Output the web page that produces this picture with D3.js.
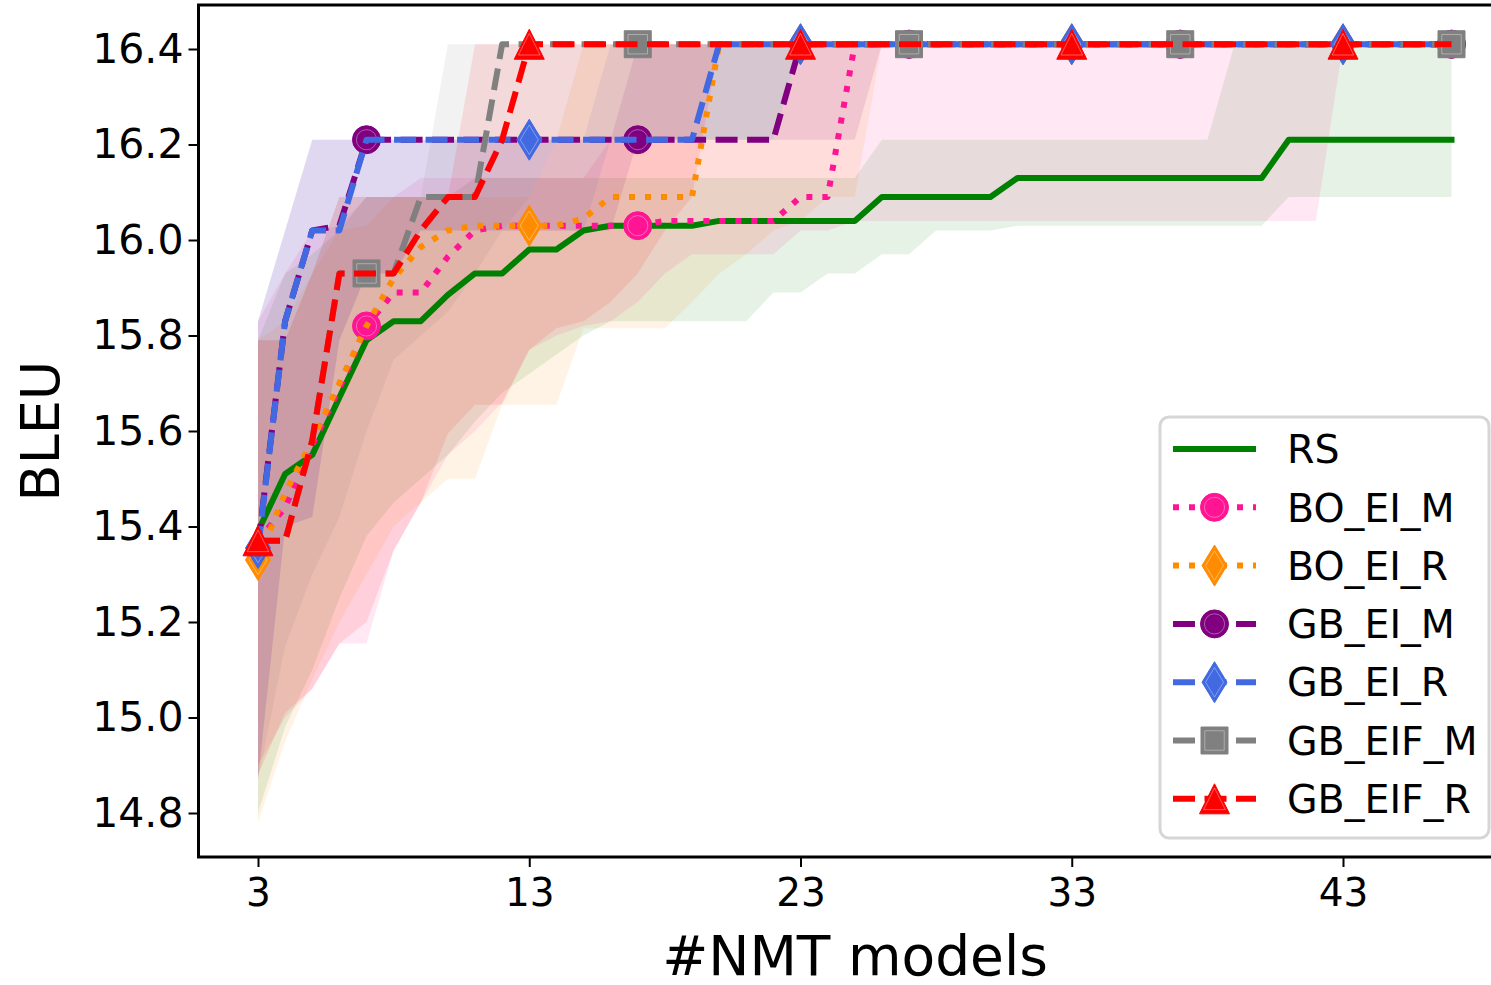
<!DOCTYPE html>
<html>
<head>
<meta charset="utf-8">
<script src="https://cdn.jsdelivr.net/npm/d3@7"></script>
<style>
  html, body { margin: 0; padding: 0; background: #fff; }
  svg { display: block; font-family: "DejaVu Sans", sans-serif; }
</style>
</head>
<body>
<div id="chart"></div>
<script>
// number of NMT models evaluated (x axis)
const modelCounts = d3.range(3, 48);

// median BLEU curves and min / max bands, x = 3 .. 47
const rsMean = [15.39, 15.51, 15.55, 15.67, 15.79, 15.83, 15.83, 15.885, 15.93, 15.93, 15.98, 15.98, 16.02, 16.03, 16.03, 16.03, 16.03, 16.04, 16.04, 16.04, 16.04, 16.04, 16.04, 16.09, 16.09, 16.09, 16.09, 16.09, 16.13, 16.13, 16.13, 16.13, 16.13, 16.13, 16.13, 16.13, 16.13, 16.13, 16.21, 16.21, 16.21, 16.21, 16.21, 16.21, 16.21];
const rsLow = [14.80, 14.98, 15.10, 15.25, 15.38, 15.45, 15.50, 15.55, 15.62, 15.68, 15.72, 15.76, 15.80, 15.83, 15.83, 15.83, 15.83, 15.83, 15.83, 15.89, 15.89, 15.93, 15.93, 15.97, 15.97, 16.02, 16.02, 16.02, 16.03, 16.03, 16.03, 16.03, 16.03, 16.03, 16.03, 16.03, 16.03, 16.03, 16.09, 16.09, 16.09, 16.09, 16.09, 16.09, 16.09];
const rsHigh = [15.79, 15.93, 15.97, 16.02, 16.09, 16.09, 16.09, 16.09, 16.13, 16.13, 16.13, 16.13, 16.13, 16.13, 16.13, 16.13, 16.13, 16.13, 16.13, 16.13, 16.13, 16.13, 16.13, 16.21, 16.21, 16.21, 16.21, 16.21, 16.21, 16.21, 16.21, 16.21, 16.21, 16.21, 16.21, 16.21, 16.41, 16.41, 16.41, 16.41, 16.41, 16.41, 16.41, 16.41, 16.41];

const boEiMMean = [15.37, 15.44, 15.57, 15.69, 15.82, 15.89, 15.89, 15.965, 16.02, 16.03, 16.03, 16.03, 16.03, 16.03, 16.03, 16.04, 16.04, 16.04, 16.04, 16.04, 16.09, 16.09, 16.41, 16.41, 16.41, 16.41, 16.41, 16.41, 16.41, 16.41, 16.41, 16.41, 16.41, 16.41, 16.41, 16.41, 16.41, 16.41, 16.41, 16.41, 16.41, 16.41, 16.41, 16.41, 16.41];
const boEiMLow = [14.90, 15.00, 15.06, 15.155, 15.155, 15.35, 15.45, 15.55, 15.60, 15.66, 15.77, 15.80, 15.82, 15.83, 15.87, 15.93, 15.97, 15.97, 15.97, 15.97, 16.02, 16.02, 16.04, 16.04, 16.04, 16.04, 16.04, 16.04, 16.04, 16.04, 16.04, 16.04, 16.04, 16.04, 16.04, 16.04, 16.04, 16.04, 16.04, 16.04, 16.41, 16.41, 16.41, 16.41, 16.41];
const boEiMHigh = [15.83, 15.93, 16.02, 16.03, 16.09, 16.09, 16.13, 16.13, 16.13, 16.13, 16.13, 16.13, 16.13, 16.21, 16.21, 16.21, 16.21, 16.21, 16.21, 16.21, 16.41, 16.41, 16.41, 16.41, 16.41, 16.41, 16.41, 16.41, 16.41, 16.41, 16.41, 16.41, 16.41, 16.41, 16.41, 16.41, 16.41, 16.41, 16.41, 16.41, 16.41, 16.41, 16.41, 16.41, 16.41];

const boEiRMean = [15.33, 15.47, 15.58, 15.70, 15.82, 15.92, 15.985, 16.02, 16.03, 16.03, 16.03, 16.03, 16.045, 16.09, 16.09, 16.09, 16.09, 16.41, 16.41, 16.41, 16.41, 16.41, 16.41, 16.41, 16.41, 16.41, 16.41, 16.41, 16.41, 16.41, 16.41, 16.41, 16.41, 16.41, 16.41, 16.41, 16.41, 16.41, 16.41, 16.41, 16.41, 16.41, 16.41, 16.41, 16.41];
const boEiRLow = [14.78, 14.95, 15.08, 15.20, 15.30, 15.40, 15.45, 15.50, 15.50, 15.655, 15.655, 15.655, 15.815, 15.815, 15.815, 15.815, 15.87, 15.93, 15.97, 16.02, 16.04, 16.09, 16.09, 16.41, 16.41, 16.41, 16.41, 16.41, 16.41, 16.41, 16.41, 16.41, 16.41, 16.41, 16.41, 16.41, 16.41, 16.41, 16.41, 16.41, 16.41, 16.41, 16.41, 16.41, 16.41];
const boEiRHigh = [15.79, 15.83, 15.93, 16.02, 16.03, 16.09, 16.09, 16.09, 16.09, 16.09, 16.09, 16.21, 16.41, 16.41, 16.41, 16.41, 16.41, 16.41, 16.41, 16.41, 16.41, 16.41, 16.41, 16.41, 16.41, 16.41, 16.41, 16.41, 16.41, 16.41, 16.41, 16.41, 16.41, 16.41, 16.41, 16.41, 16.41, 16.41, 16.41, 16.41, 16.41, 16.41, 16.41, 16.41, 16.41];

const gbEiMMean = [15.36, 15.83, 16.02, 16.03, 16.21, 16.21, 16.21, 16.21, 16.21, 16.21, 16.21, 16.21, 16.21, 16.21, 16.21, 16.21, 16.21, 16.21, 16.21, 16.21, 16.41, 16.41, 16.41, 16.41, 16.41, 16.41, 16.41, 16.41, 16.41, 16.41, 16.41, 16.41, 16.41, 16.41, 16.41, 16.41, 16.41, 16.41, 16.41, 16.41, 16.41, 16.41, 16.41, 16.41, 16.41];
const gbEiMLow = [14.87, 15.40, 15.42, 15.79, 15.93, 15.93, 16.02, 16.02, 16.02, 16.02, 16.02, 16.02, 16.02, 16.02, 16.21, 16.21, 16.21, 16.21, 16.21, 16.21, 16.21, 16.21, 16.21, 16.41, 16.41, 16.41, 16.41, 16.41, 16.41, 16.41, 16.41, 16.41, 16.41, 16.41, 16.41, 16.41, 16.41, 16.41, 16.41, 16.41, 16.41, 16.41, 16.41, 16.41, 16.41];
const gbEiMHigh = [15.83, 16.02, 16.21, 16.21, 16.21, 16.21, 16.21, 16.21, 16.21, 16.21, 16.21, 16.21, 16.21, 16.21, 16.41, 16.41, 16.41, 16.41, 16.41, 16.41, 16.41, 16.41, 16.41, 16.41, 16.41, 16.41, 16.41, 16.41, 16.41, 16.41, 16.41, 16.41, 16.41, 16.41, 16.41, 16.41, 16.41, 16.41, 16.41, 16.41, 16.41, 16.41, 16.41, 16.41, 16.41];

const gbEiRMean = [15.355, 15.83, 16.02, 16.02, 16.21, 16.21, 16.21, 16.21, 16.21, 16.21, 16.21, 16.21, 16.21, 16.21, 16.21, 16.21, 16.21, 16.41, 16.41, 16.41, 16.41, 16.41, 16.41, 16.41, 16.41, 16.41, 16.41, 16.41, 16.41, 16.41, 16.41, 16.41, 16.41, 16.41, 16.41, 16.41, 16.41, 16.41, 16.41, 16.41, 16.41, 16.41, 16.41, 16.41, 16.41];
const gbEiRLow = [14.87, 15.40, 15.42, 15.79, 15.93, 15.93, 16.02, 16.02, 16.02, 16.02, 16.02, 16.02, 16.02, 16.21, 16.21, 16.21, 16.21, 16.21, 16.21, 16.21, 16.41, 16.41, 16.41, 16.41, 16.41, 16.41, 16.41, 16.41, 16.41, 16.41, 16.41, 16.41, 16.41, 16.41, 16.41, 16.41, 16.41, 16.41, 16.41, 16.41, 16.41, 16.41, 16.41, 16.41, 16.41];
const gbEiRHigh = [15.83, 16.02, 16.21, 16.21, 16.21, 16.21, 16.21, 16.21, 16.21, 16.21, 16.21, 16.21, 16.21, 16.41, 16.41, 16.41, 16.41, 16.41, 16.41, 16.41, 16.41, 16.41, 16.41, 16.41, 16.41, 16.41, 16.41, 16.41, 16.41, 16.41, 16.41, 16.41, 16.41, 16.41, 16.41, 16.41, 16.41, 16.41, 16.41, 16.41, 16.41, 16.41, 16.41, 16.41, 16.41];

const gbEifMMean = [15.37, 15.37, 15.58, 15.93, 15.93, 15.93, 16.09, 16.09, 16.09, 16.41, 16.41, 16.41, 16.41, 16.41, 16.41, 16.41, 16.41, 16.41, 16.41, 16.41, 16.41, 16.41, 16.41, 16.41, 16.41, 16.41, 16.41, 16.41, 16.41, 16.41, 16.41, 16.41, 16.41, 16.41, 16.41, 16.41, 16.41, 16.41, 16.41, 16.41, 16.41, 16.41, 16.41, 16.41, 16.41];
const gbEifMLow = [14.87, 15.15, 15.30, 15.42, 15.60, 15.75, 15.80, 15.85, 15.93, 16.02, 16.09, 16.21, 16.21, 16.21, 16.21, 16.21, 16.21, 16.21, 16.21, 16.21, 16.41, 16.41, 16.41, 16.41, 16.41, 16.41, 16.41, 16.41, 16.41, 16.41, 16.41, 16.41, 16.41, 16.41, 16.41, 16.41, 16.41, 16.41, 16.41, 16.41, 16.41, 16.41, 16.41, 16.41, 16.41];
const gbEifMHigh = [15.79, 15.79, 15.93, 16.09, 16.09, 16.09, 16.09, 16.41, 16.41, 16.41, 16.41, 16.41, 16.41, 16.41, 16.41, 16.41, 16.41, 16.41, 16.41, 16.41, 16.41, 16.41, 16.41, 16.41, 16.41, 16.41, 16.41, 16.41, 16.41, 16.41, 16.41, 16.41, 16.41, 16.41, 16.41, 16.41, 16.41, 16.41, 16.41, 16.41, 16.41, 16.41, 16.41, 16.41, 16.41];

const gbEifRMean = [15.37, 15.37, 15.58, 15.93, 15.93, 15.93, 16.02, 16.09, 16.09, 16.21, 16.41, 16.41, 16.41, 16.41, 16.41, 16.41, 16.41, 16.41, 16.41, 16.41, 16.41, 16.41, 16.41, 16.41, 16.41, 16.41, 16.41, 16.41, 16.41, 16.41, 16.41, 16.41, 16.41, 16.41, 16.41, 16.41, 16.41, 16.41, 16.41, 16.41, 16.41, 16.41, 16.41, 16.41, 16.41];
const gbEifRLow = [14.88, 15.01, 15.06, 15.155, 15.20, 15.35, 15.45, 15.595, 15.655, 15.655, 15.77, 15.815, 15.83, 15.87, 15.93, 16.02, 16.09, 16.41, 16.41, 16.41, 16.41, 16.41, 16.41, 16.41, 16.41, 16.41, 16.41, 16.41, 16.41, 16.41, 16.41, 16.41, 16.41, 16.41, 16.41, 16.41, 16.41, 16.41, 16.41, 16.41, 16.41, 16.41, 16.41, 16.41, 16.41];
const gbEifRHigh = [15.79, 15.79, 15.93, 16.09, 16.09, 16.09, 16.09, 16.09, 16.41, 16.41, 16.41, 16.41, 16.41, 16.41, 16.41, 16.41, 16.41, 16.41, 16.41, 16.41, 16.41, 16.41, 16.41, 16.41, 16.41, 16.41, 16.41, 16.41, 16.41, 16.41, 16.41, 16.41, 16.41, 16.41, 16.41, 16.41, 16.41, 16.41, 16.41, 16.41, 16.41, 16.41, 16.41, 16.41, 16.41];

const xTicks = [3, 13, 23, 33, 43];
const yTicks = [14.8, 15.0, 15.2, 15.4, 15.6, 15.8, 16.0, 16.2, 16.4];

const dashed = "22,9.5";
const dotted = "6,10";

const series = [
  { name: "RS", color: "green", dash: null, marker: null, first: 0, mean: rsMean, low: rsLow, high: rsHigh },
  { name: "BO_EI_M", color: "deeppink", dash: dotted, marker: "circle", first: 4, mean: boEiMMean, low: boEiMLow, high: boEiMHigh },
  { name: "BO_EI_R", color: "darkorange", dash: dotted, marker: "diamond", first: 0, mean: boEiRMean, low: boEiRLow, high: boEiRHigh },
  { name: "GB_EI_M", color: "purple", dash: dashed, marker: "circle", first: 4, mean: gbEiMMean, low: gbEiMLow, high: gbEiMHigh },
  { name: "GB_EI_R", color: "royalblue", dash: dashed, marker: "diamond", first: 0, mean: gbEiRMean, low: gbEiRLow, high: gbEiRHigh },
  { name: "GB_EIF_M", color: "gray", dash: dashed, marker: "square", first: 4, mean: gbEifMMean, low: gbEifMLow, high: gbEifMHigh },
  { name: "GB_EIF_R", color: "red", dash: dashed, marker: "triangle", first: 0, mean: gbEifRMean, low: gbEifRLow, high: gbEifRHigh }
];

const width = 1491, height = 985;
const plot = { left: 198.5, top: 5, right: 1512, bottom: 857 };

const svg = d3.select("#chart").append("svg")
    .attr("width", width)
    .attr("height", height);

const x = d3.scaleLinear().domain([3, 43]).range([258, 1343]);
const y = d3.scaleLinear().domain([14.8, 16.4]).range([813, 49]);

svg.append("clipPath").attr("id", "clip")
  .append("rect")
    .attr("x", plot.left).attr("y", plot.top)
    .attr("width", plot.right - plot.left).attr("height", plot.bottom - plot.top);

// marker shapes
function markerPath(type, s) {
  s = s || 1;
  if (type === "circle") {
    const r = 14 * s;
    return `M${r},0A${r},${r} 0 1,1 ${-r},0A${r},${r} 0 1,1 ${r},0Z`;
  }
  if (type === "diamond") {
    const w = 12.5 * s, h = 20.5 * s;
    return `M0,${-h}L${w},0L0,${h}L${-w},0Z`;
  }
  if (type === "square") {
    const a = 13.5 * s;
    return `M${-a},${-a}H${a}V${a}H${-a}Z`;
  }
  if (type === "triangle") {
    const a = 15 * s;
    return `M0,${-a}L${a},${a}L${-a},${a}Z`;
  }
  return "";
}

function drawMarker(g, type, color, cx, cy) {
  const m = g.append("g").attr("transform", `translate(${cx},${cy})`);
  m.append("path").attr("d", markerPath(type))
      .attr("fill", color).attr("stroke", color).attr("stroke-width", 1);
  m.append("path").attr("d", markerPath(type, 0.72))
      .attr("fill", "none").attr("stroke", "#fff")
      .attr("stroke-opacity", 0.35).attr("stroke-width", 1);
}

const body = svg.append("g").attr("clip-path", "url(#clip)");

// bands
const area = d3.area()
    .x(d => x(d.n))
    .y0(d => y(d.lo))
    .y1(d => y(d.hi));

series.forEach(s => {
  const rows = modelCounts.map((n, i) => ({ n, lo: s.low[i], hi: s.high[i] }));
  body.append("path")
      .attr("d", area(rows))
      .attr("fill", s.color)
      .attr("fill-opacity", 0.1);
});

// lines and markers
const line = d3.line()
    .x(d => x(d.n))
    .y(d => y(d.v));

series.forEach(s => {
  const rows = modelCounts.map((n, i) => ({ n, v: s.mean[i] }));
  const g = body.append("g");
  g.append("path")
      .attr("d", line(rows))
      .attr("fill", "none")
      .attr("stroke", s.color)
      .attr("stroke-width", 6)
      .attr("stroke-linejoin", "round")
      .attr("stroke-linecap", s.dash ? "butt" : "square")
      .attr("stroke-dasharray", s.dash);
  if (s.marker) {
    rows.filter((d, i) => i >= s.first && (i - s.first) % 10 === 0)
      .forEach(d => drawMarker(g, s.marker, s.color, x(d.n), y(d.v)));
  }
});

// axes
const yAxis = d3.axisLeft(y)
    .tickValues(yTicks)
    .tickFormat(d3.format(".1f"))
    .tickSize(10)
    .tickPadding(5);

svg.append("g")
    .attr("transform", `translate(${plot.left},0)`)
    .call(yAxis)
    .call(g => g.select(".domain").remove())
    .call(g => g.selectAll(".tick line").attr("stroke", "#000").attr("stroke-width", 2))
    .call(g => g.selectAll(".tick text")
        .attr("font-family", "DejaVu Sans")
        .attr("font-size", 41)
        .attr("fill", "#000"));

const xAxis = d3.axisBottom(x)
    .tickValues(xTicks)
    .tickFormat(d3.format("d"))
    .tickSize(10)
    .tickPadding(11);

svg.append("g")
    .attr("transform", `translate(0,${plot.bottom})`)
    .call(xAxis)
    .call(g => g.select(".domain").remove())
    .call(g => g.selectAll(".tick line").attr("stroke", "#000").attr("stroke-width", 2))
    .call(g => g.selectAll(".tick text")
        .attr("font-family", "DejaVu Sans")
        .attr("font-size", 39)
        .attr("fill", "#000"));

// spines
svg.append("path")
    .attr("d", `M${plot.right},${plot.top}H${plot.left}V${plot.bottom}H${plot.right}`)
    .attr("fill", "none")
    .attr("stroke", "#000")
    .attr("stroke-width", 3);

// axis titles
svg.append("text")
    .attr("transform", `translate(59,431) rotate(-90)`)
    .attr("text-anchor", "middle")
    .attr("font-size", 54)
    .text("BLEU");

svg.append("text")
    .attr("x", 855)
    .attr("y", 975)
    .attr("text-anchor", "middle")
    .attr("font-size", 55)
    .text("#NMT models");

// legend
const legend = svg.append("g");
legend.append("rect")
    .attr("x", 1160).attr("y", 417)
    .attr("width", 329).attr("height", 421)
    .attr("rx", 9)
    .attr("fill", "#fff").attr("fill-opacity", 0.8)
    .attr("stroke", "#d6d6d6").attr("stroke-width", 3);

series.forEach((s, i) => {
  const cy = 449 + i * 58.3;
  const g = legend.append("g");
  g.append("line")
      .attr("x1", 1173).attr("x2", 1256)
      .attr("y1", cy).attr("y2", cy)
      .attr("stroke", s.color)
      .attr("stroke-width", 6)
      .attr("stroke-linecap", "butt")
      .attr("stroke-dasharray", s.dash);
  if (s.marker) drawMarker(g, s.marker, s.color, 1214.5, cy);
  g.append("text")
      .attr("x", 1287)
      .attr("y", cy)
      .attr("dy", "0.36em")
      .attr("font-size", 39.5)
      .text(s.name);
});
</script>
</body>
</html>
